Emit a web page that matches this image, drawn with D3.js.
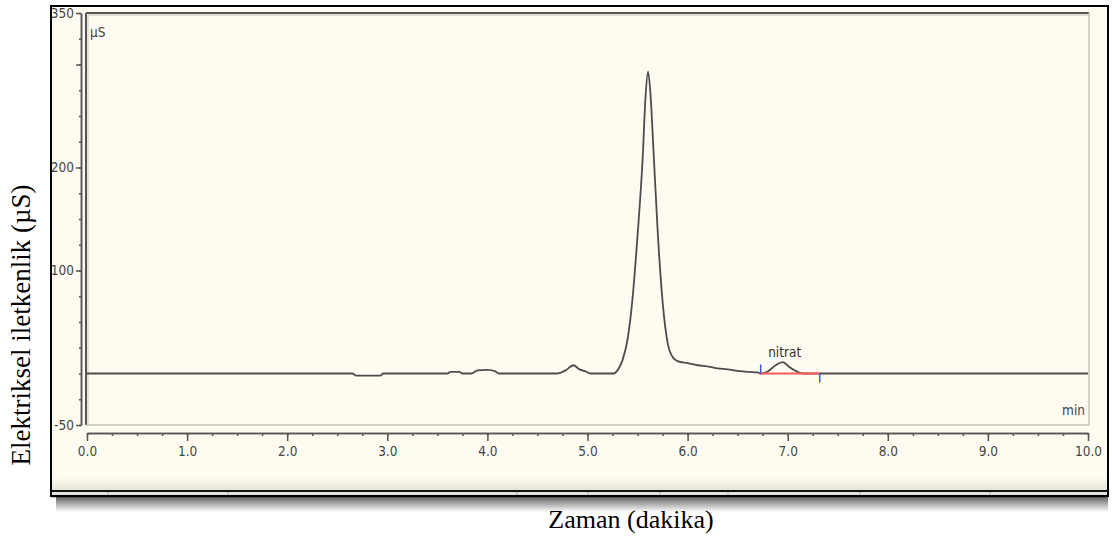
<!DOCTYPE html>
<html>
<head>
<meta charset="utf-8">
<script src="https://cdn.jsdelivr.net/npm/d3@7"></script>
<style>
  body { margin: 0; background: #fff; }
  svg { display: block; }
  .tick text { font-family: "Liberation Sans Narrow", "Arial Narrow", "DejaVu Sans Condensed", sans-serif; }
</style>
</head>
<body>
<div id="chart"></div>
<script>
// chromatogram trace: time (min) and conductivity (µS)
const traceTime = [0, 2.65, 2.69, 2.93, 2.96, 3.6, 3.63, 3.72, 3.75, 3.84, 3.9, 4.0, 4.08, 4.12,
    4.7, 4.78, 4.86, 4.92, 4.98, 5.03, 5.26, 5.3, 5.35, 5.4, 5.45, 5.5, 5.55, 5.58, 5.605,
    5.63, 5.66, 5.7, 5.75, 5.8, 5.85, 5.9, 6.0, 6.1, 6.2, 6.3, 6.4, 6.5, 6.6, 6.7, 6.73,
    6.8, 6.88, 6.95, 7.02, 7.1, 7.15, 10];
const traceValue = [0, 0, -2, -2, 0, 0, 1.5, 1.5, 0, 0, 3, 3.5, 2, 0,
    0, 3, 8, 4, 2, 0, 0, 3, 13, 33, 73, 134, 207, 269, 293,
    270, 215, 140, 70, 30, 16, 12, 10, 8, 7, 5, 4, 2.5, 1.5, 1, 0,
    2, 8, 11, 6, 1.5, 0, 0];

const yTickLabels = [350, 200, 100, -50];
const yMediumTicks = [300];
const xTickLabels = [0, 1, 2, 3, 4, 5, 6, 7, 8, 9, 10];

const peakName = "nitrat";
const peakApex = [6.95, 11];
const peakStart = 6.73;
const peakEnd = 7.32;

const W = 1112, H = 541;
const narrow = '"Liberation Sans Narrow", "Arial Narrow", "DejaVu Sans Condensed", sans-serif';

const svg = d3.select('#chart').append('svg')
    .attr('width', W)
    .attr('height', H);

const defs = svg.append('defs');
const strip = defs.append('linearGradient').attr('id', 'strip').attr('x1', 0).attr('x2', 0).attr('y1', 0).attr('y2', 1);
strip.append('stop').attr('offset', '0%').attr('stop-color', '#fdfaee');
strip.append('stop').attr('offset', '100%').attr('stop-color', '#e4e1d6');
const shadow = defs.append('linearGradient').attr('id', 'shadow').attr('x1', 0).attr('x2', 0).attr('y1', 0).attr('y2', 1);
shadow.append('stop').attr('offset', '0%').attr('stop-color', '#666');
shadow.append('stop').attr('offset', '100%').attr('stop-color', '#ffffff');

// outer window with drop shadow
svg.append('rect').attr('x', 56).attr('y', 497).attr('width', 1052).attr('height', 15).attr('fill', 'url(#shadow)');
svg.append('rect').attr('x', 51).attr('y', 6).attr('width', 1057).attr('height', 490)
    .attr('fill', '#fffbf0');
svg.append('rect').attr('x', 52).attr('y', 478).attr('width', 1055).attr('height', 13).attr('fill', 'url(#strip)');
svg.append('rect').attr('x', 52).attr('y', 492).attr('width', 1055).attr('height', 4).attr('fill', '#e2e2e2');
[108, 228, 517, 588, 660, 728, 860, 990].forEach(x => {
    svg.append('line').attr('x1', x).attr('x2', x).attr('y1', 492).attr('y2', 496)
        .attr('stroke', '#b0b0b0').attr('stroke-width', 1);
});
svg.append('line').attr('x1', 51).attr('x2', 1108).attr('y1', 491).attr('y2', 491).attr('stroke', '#111').attr('stroke-width', 2);
svg.append('line').attr('x1', 51).attr('x2', 1108).attr('y1', 496.5).attr('y2', 496.5).attr('stroke', '#111').attr('stroke-width', 1.5);
svg.append('rect').attr('x', 51).attr('y', 6).attr('width', 1057).attr('height', 490)
    .attr('fill', 'none').attr('stroke', '#000').attr('stroke-width', 2);

// plot area
const plot = { left: 86, top: 13, right: 1089, bottom: 425 };
svg.append('line').attr('x1', plot.left).attr('x2', plot.right).attr('y1', plot.top).attr('y2', plot.top)
    .attr('stroke', '#555').attr('stroke-width', 2);
svg.append('line').attr('x1', plot.left + 2).attr('x2', plot.right).attr('y1', plot.top + 2).attr('y2', plot.top + 2)
    .attr('stroke', '#c8c6bc').attr('stroke-width', 1);
svg.append('line').attr('x1', plot.left).attr('x2', plot.left).attr('y1', plot.top).attr('y2', plot.bottom)
    .attr('stroke', '#555').attr('stroke-width', 2);
svg.append('line').attr('x1', plot.left + 2).attr('x2', plot.left + 2).attr('y1', plot.top + 2).attr('y2', plot.bottom)
    .attr('stroke', '#c8c6bc').attr('stroke-width', 1);
svg.append('line').attr('x1', plot.right).attr('x2', plot.right).attr('y1', plot.top).attr('y2', plot.bottom)
    .attr('stroke', '#c4c2b8').attr('stroke-width', 1.5);
svg.append('line').attr('x1', plot.left).attr('x2', plot.right).attr('y1', plot.bottom).attr('y2', plot.bottom)
    .attr('stroke', '#c4c2b8').attr('stroke-width', 1.5);

const x = d3.scaleLinear().domain([0, 10]).range([87, 1088]);
const y = d3.scaleLinear().domain([-50, 350]).range([425, 13]);

// y axis: minor every 25, longer ticks with labels
const yAxisX = 81;
const yMinor = svg.append('g').attr('transform', `translate(${yAxisX},0)`)
    .call(d3.axisLeft(y).tickValues(d3.range(-50, 351, 25)).tickSize(2).tickSizeOuter(0).tickFormat(''));
const yMajor = svg.append('g').attr('transform', `translate(${yAxisX},0)`)
    .call(d3.axisLeft(y).tickValues(yTickLabels.concat(yMediumTicks)).tickSize(5).tickSizeOuter(0)
        .tickPadding(2).tickFormat(d => yTickLabels.includes(d) ? d : ''));
[yMinor, yMajor].forEach(g => {
    g.select('.domain').attr('stroke', '#555').attr('stroke-width', 1.5);
    g.selectAll('.tick line').attr('stroke', '#555').attr('stroke-width', 1.5);
    g.selectAll('.tick text').attr('fill', '#444').attr('font-size', 13.5);
});

// x axis
const xAxisY = 433;
const xMinor = svg.append('g').attr('transform', `translate(0,${xAxisY})`)
    .call(d3.axisBottom(x).tickValues(d3.range(0, 10.01, 0.25)).tickSize(3).tickSizeOuter(0).tickFormat(''));
const xMajor = svg.append('g').attr('transform', `translate(0,${xAxisY})`)
    .call(d3.axisBottom(x).tickValues(xTickLabels).tickSize(8).tickSizeOuter(0).tickPadding(5).tickFormat(d3.format('.1f')));
[xMinor, xMajor].forEach(g => {
    g.select('.domain').attr('stroke', '#555').attr('stroke-width', 1.5);
    g.selectAll('.tick line').attr('stroke', '#555').attr('stroke-width', 1.5);
    g.selectAll('.tick text').attr('fill', '#444').attr('font-size', 13.5);
});

// units inside plot
svg.append('text').attr('x', 90).attr('y', 37).text('µS')
    .attr('font-family', narrow).attr('font-size', 13.5).attr('fill', '#444');
svg.append('text').attr('x', 1085).attr('y', 415).attr('text-anchor', 'end').text('min')
    .attr('font-family', narrow).attr('font-size', 13.5).attr('fill', '#444');

// trace
const points = traceTime.map((t, i) => [t, traceValue[i]]);
const line = d3.line().x(d => x(d[0])).y(d => y(d[1])).curve(d3.curveMonotoneX);
svg.append('path').datum(points).attr('d', line)
    .attr('fill', 'none').attr('stroke', '#4d4d4d').attr('stroke-width', 1.8);

// peak integration baseline + delimiters
svg.append('line').attr('x1', x(peakStart)).attr('x2', x(peakEnd)).attr('y1', y(0)).attr('y2', y(0))
    .attr('stroke', '#ff5a5a').attr('stroke-width', 2);
svg.append('line').attr('x1', x(peakStart)).attr('x2', x(peakStart)).attr('y1', y(0) - 9).attr('y2', y(0))
    .attr('stroke', '#3355ff').attr('stroke-width', 1.5);
svg.append('line').attr('x1', x(peakEnd)).attr('x2', x(peakEnd)).attr('y1', y(0)).attr('y2', y(0) + 9)
    .attr('stroke', '#3355ff').attr('stroke-width', 1.5);
svg.append('text').attr('x', x(peakApex[0]) + 2).attr('y', y(peakApex[1]) - 5).attr('text-anchor', 'middle')
    .text(peakName)
    .attr('font-family', narrow).attr('font-size', 13.5).attr('fill', '#333');

// axis titles
svg.append('text')
    .attr('transform', 'translate(30,325) rotate(-90)')
    .attr('text-anchor', 'middle')
    .attr('font-family', '"Liberation Serif", "Times New Roman", serif')
    .attr('font-size', 27)
    .text('Elektriksel iletkenlik (µS)');
svg.append('text')
    .attr('x', 631).attr('y', 528)
    .attr('text-anchor', 'middle')
    .attr('font-family', '"Liberation Serif", "Times New Roman", serif')
    .attr('font-size', 26)
    .text('Zaman (dakika)');
</script>
</body>
</html>
